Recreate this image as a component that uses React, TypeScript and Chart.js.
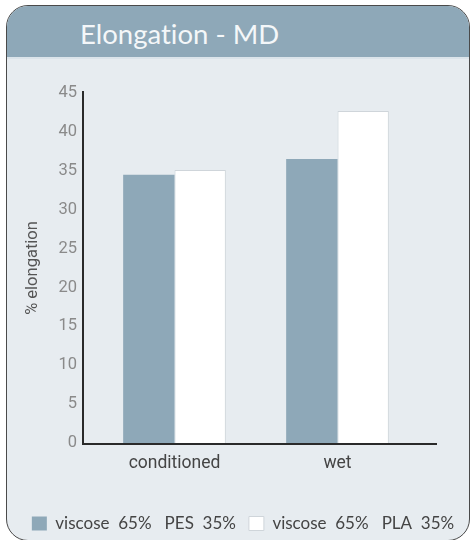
import React, { useEffect, useRef } from "react";
import { Chart, registerables } from "chart.js";

Chart.register(...registerables);

const titleText = "Elongation - MD";
const categories = ["conditioned", "wet"];
const pesValues = [34.5, 36.5];
const plaValues = [35.1, 42.7];
const seriesLabels = ["viscose  65%   PES  35%", "viscose  65%   PLA  35%"];
const yAxisTitle = "% elongation";
const yMin = 0;
const yMax = 45;
const yStep = 5;

const axisLinesPlugin = {
  id: "axisLines",
  afterDatasetsDraw(chart: any) {
    const { ctx, chartArea, scales } = chart;
    const y = scales.y;
    const x0 = chartArea.left - 10;
    const x1 = chartArea.right + 18;
    const yZero = y.getPixelForValue(0) + 1;
    const yTop = y.getPixelForValue(yMax) - 2;
    ctx.save();
    ctx.strokeStyle = "#2a2a2a";
    ctx.lineWidth = 2;
    ctx.beginPath();
    ctx.moveTo(x0, yTop);
    ctx.lineTo(x0, yZero);
    ctx.lineTo(x1, yZero);
    ctx.stroke();
    ctx.restore();
  },
};

function ChartPanel() {
  const ref = useRef<HTMLCanvasElement | null>(null);
  useEffect(() => {
    if (!ref.current) return;
    const chart = new Chart(ref.current, {
      type: "bar",
      data: {
        labels: categories,
        datasets: [
          {
            label: seriesLabels[0],
            data: pesValues,
            backgroundColor: "#8ea8b8",
            borderWidth: 0,
            barPercentage: 1,
            categoryPercentage: 0.63,
          },
          {
            label: seriesLabels[1],
            data: plaValues,
            backgroundColor: "#ffffff",
            borderColor: "#cfd5da",
            borderWidth: 1,
            barPercentage: 1,
            categoryPercentage: 0.63,
          },
        ],
      },
      options: {
        animation: false,
        responsive: false,
        maintainAspectRatio: false,
        layout: { padding: { top: 35, right: 0, left: 14, bottom: 4 } },
        plugins: {
          tooltip: { enabled: false },
          legend: {
            position: "bottom",
            labels: {
              font: { family: "Lato", size: 17 },
              color: "#444",
              boxWidth: 15,
              boxHeight: 14,
              padding: 13,
            },
          },
        },
        scales: {
          x: {
            grid: { display: false },
            border: { display: false },
            ticks: {
              font: { family: "Roboto", size: 17.5 },
              color: "#444",
              padding: 2,
            },
            afterFit(scale: any) {
              scale.height = 59;
            },
          },
          y: {
            min: yMin,
            max: yMax,
            grid: { display: false },
            border: { display: false },
            ticks: {
              stepSize: yStep,
              font: { family: "Roboto", size: 16.5 },
              color: "#8a8a8a",
              padding: 8,
            },
            title: {
              display: true,
              text: yAxisTitle,
              font: { family: "Roboto", size: 16.5 },
              color: "#555",
              padding: { top: 9, bottom: 0 },
            },
            afterFit(scale: any) {
              scale.width = 79;
            },
          },
          yRight: {
            type: "linear",
            position: "right",
            display: true,
            grid: { display: false, drawTicks: false },
            border: { display: false },
            ticks: { display: false },
            afterFit(scale: any) {
              scale.width = 53;
            },
          },
        },
      },
      plugins: [axisLinesPlugin],
    });
    return () => chart.destroy();
  }, []);
  return (
    <canvas
      ref={ref}
      width={472}
      height={488}
      style={{ position: "absolute", left: 0, top: 58, width: 472, height: 488 }}
    />
  );
}

export default function App() {
  return (
    <div
      style={{
        position: "absolute",
        left: 0,
        top: 0,
        width: 472,
        height: 540,
        overflow: "hidden",
        background: "#ffffff",
      }}
    >
      <div
        style={{
          position: "absolute",
          left: 6,
          top: 5,
          width: 464,
          height: 536,
          boxSizing: "border-box",
          border: "1.5px solid #4a4a4a",
          borderRadius: 22,
          background: "#e7ecf0",
          overflow: "hidden",
        }}
      >
        <div
          style={{
            position: "absolute",
            left: 0,
            top: 0,
            right: 0,
            height: 51,
            background: "#8ea8b8",
            borderBottom: "2px solid #dbe4ea",
          }}
        />
        <div
          style={{
            position: "absolute",
            left: 73,
            top: 10,
            color: "#f4f7f9",
            fontFamily: "Lato, sans-serif",
            fontSize: 27.5,
            lineHeight: "36px",
            whiteSpace: "nowrap",
            fontVariantLigatures: "none",
          }}
        >
          {titleText}
        </div>
      </div>
      <ChartPanel />
    </div>
  );
}
